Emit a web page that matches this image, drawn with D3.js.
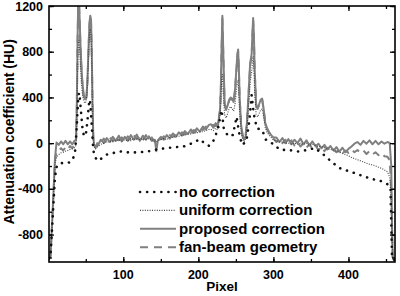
<!DOCTYPE html>
<html>
<head>
<meta charset="utf-8">
<script src="https://cdn.jsdelivr.net/npm/d3@7"></script>
<style>
  body { margin: 0; background: #fff; }
  text { font-family: "Liberation Sans", Arial, sans-serif; font-weight: bold; }
</style>
</head>
<body>
<div id="chart"></div>
<script>
// pixel positions shared by the three dense profiles
var pixels = [1, 3, 5, 7, 9, 11, 14, 17, 20, 23, 26, 29, 32, 35,
  37, 38, 39, 40, 41, 42, 43, 44, 45, 46, 47, 48, 49, 50, 51, 52, 53, 54, 55, 56, 57, 58, 59, 60, 61, 63,
  66, 70, 74, 78, 82, 86, 90, 94, 98, 102, 106, 110, 114, 118, 122, 126, 130, 134, 138, 142, 144, 146,
  150, 154, 158, 162, 166, 170, 174, 178, 182, 186, 190, 194, 198, 202, 206, 210, 214,
  217, 220, 223, 225, 227, 229, 230, 231, 232, 233, 235, 237, 239, 241, 243, 245, 247, 249, 251, 252,
  253, 254, 255, 257, 259, 261, 263, 265, 267, 269, 270, 271, 272, 273, 274, 275, 277, 279, 281, 283,
  285, 287, 289, 291, 294, 297, 300,
  304, 308, 312, 316, 320, 324, 328, 332, 336, 340, 344, 348, 352, 356, 360, 364, 368, 372, 376, 380,
  384, 388, 392, 396, 400, 404, 408, 412, 416, 420, 424, 428, 432, 436, 440, 444, 448, 452,
  455, 457, 458, 459, 460, 462];

var proposed = [-1010, -990, -720, -430, -130, 5, -15, 15, -10, 20, -10, 15, -10, 20,
  30, 300, 900, 1260, 1250, 1050, 850, 700, 580, 500, 440, 400, 385, 390, 420, 520, 700, 900, 1060, 1115, 1080, 800, 350, 60, -10, -30,
  -20, 30, 0, 45, 10, 55, 20, 65, 15, 55, 20, 70, 30, 75, 20, 65, 30, 60, 20, 30, -70, 25,
  55, 30, 70, 40, 85, 55, 95, 65, 105, 80, 120, 90, 130, 100, 145, 120, 160,
  165, 135, 175, 145, 200, 300, 500, 850, 1115, 850, 350, 290, 330, 380, 400, 390, 360, 480, 680, 780,
  820, 650, 400, 160, 60, 30, 60, 200, 450, 700, 740, 780, 950, 1095, 950, 650, 330, 300, 340, 380,
  390, 300, 180, 140, 100, 70, 50,
  50, 10, 45, 0, 35, -10, 30, 0, 40, -10, 25, -20, 15, -25, -5, -45, -15, -55, -25, -65,
  -35, -75, -40, -80, -50, -30, -5, 10, -15, 20, -5, 25, -10, 20, -10, 15, -5, 10,
  0, -200, -700, -1000, -1020, -1020];

var uniform = [-1010, -990, -740, -460, -180, -120, -100, -85, -80, -70, -65, -55, -50, -40,
  -20, 200, 600, 880, 900, 800, 650, 540, 460, 410, 380, 360, 350, 360, 390, 480, 640, 820, 950, 1000, 950, 700, 300, 30, -30, -50,
  -30, -10, 0, 10, 10, 20, 20, 30, 20, 30, 20, 40, 30, 40, 30, 40, 30, 40, 30, 20, 10, 20,
  30, 40, 30, 50, 50, 60, 60, 70, 70, 80, 80, 90, 90, 100, 100, 110, 120,
  120, 110, 130, 120, 160, 250, 400, 550, 600, 450, 250, 220, 260, 300, 320, 300, 280, 350, 480, 540,
  550, 420, 260, 100, 30, 10, 40, 150, 330, 520, 580, 620, 700, 760, 650, 450, 250, 230, 260, 290,
  300, 230, 140, 100, 70, 50, 30,
  20, 10, 10, 0, 0, -10, 0, -10, 0, -10, 0, -20, -10, -20, -30, -30, -40, -50, -55, -60,
  -70, -80, -90, -100, -110, -125, -135, -145, -155, -165, -175, -185, -190, -200, -210, -220, -235, -250,
  -300, -500, -800, -1000, -1020, -1020];

var fanBeam = [-1010, -990, -720, -440, -150, -70, -65, -45, -65, -35, -55, -25, -45, -15,
  10, 280, 850, 1220, 1220, 1020, 820, 680, 560, 480, 420, 385, 370, 375, 405, 500, 680, 880, 1040, 1100, 1060, 780, 330, 40, -20, -40,
  10, -5, 40, 10, 50, 15, 60, 25, 50, 15, 60, 25, 70, 35, 60, 25, 70, 30, 50, 10, 0, 40,
  35, 60, 40, 70, 55, 80, 65, 95, 75, 105, 90, 115, 100, 135, 115, 145, 130,
  150, 160, 150, 175, 210, 290, 480, 820, 1090, 830, 340, 300, 320, 370, 390, 380, 350, 470, 660, 760,
  800, 640, 390, 170, 70, 40, 70, 210, 440, 680, 720, 770, 930, 1070, 930, 640, 340, 310, 330, 370,
  380, 290, 190, 130, 90, 60, 40,
  10, 40, 0, 30, -10, 25, -20, 10, -30, 0, -40, -10, -50, -20, -60, -30, -70, -40, -70, -55,
  -80, -55, -90, -65, -85, -55, -80, -60, -85, -65, -95, -70, -100, -80, -105, -85, -115, -120,
  -150, -400, -800, -1000, -1020, -1020];

// the uncorrected profile is read at coarser points
var noCorrPixels = [1, 3, 5, 7, 9, 11, 14, 18, 22, 26, 30, 34, 36, 38, 40, 41, 42, 44, 46, 48, 50, 52, 54, 55, 56, 58, 60, 62,
  66, 72, 78, 86, 96, 108, 122, 135, 145, 158, 170, 180, 190, 196, 202, 208, 214,
  220, 226, 231, 234, 240, 246, 251, 254, 258, 264, 268, 271, 274, 278, 285, 290, 296,
  309, 320, 333, 345, 355, 365, 377, 388, 398, 408, 420, 431, 444, 453, 456, 457, 458, 460, 462];
var noCorr = [-1010, -990, -760, -520, -300, -210, -180, -175, -170, -172, -165, -120, -60, 150, 400, 440, 400, 250, 100, 60, 70, 180, 330, 380, 350, 150, -60, -120,
  -155, -130, -100, -87, -73, -82, -80, -70, -55, -43, -35, -30, -5, 14, 35, 0, -23,
  20, 120, 290, 120, 60, 72, 230, 100, -15, 14, 200, 420, 250, 130, 115, 30, 10,
  -58, -60, -73, -60, -43, -90, -160, -218, -240, -261, -290, -313, -333, -362, -400, -700, -1000, -1020, -1020];

var yTicks = [-800, -400, 0, 400, 800, 1200];
var xTicks = [100, 200, 300, 400];
var legendNames = ["no correction", "uniform correction", "proposed correction", "fan-beam geometry"];

var margin = {top: 6, right: 5, bottom: 34, left: 49},
    width = 400 - margin.left - margin.right,
    height = 296 - margin.top - margin.bottom;

var svg = d3.select("#chart")
  .append("svg")
  .attr("width", 400)
  .attr("height", 296)
  .append("g")
  .attr("transform", "translate(" + margin.left + "," + margin.top + ")");

var x = d3.scaleLinear().domain([1, 462]).range([0, width]);
var y = d3.scaleLinear().domain([-1040, 1200]).range([height, 0]);

svg.append("clipPath").attr("id", "clip")
  .append("rect").attr("width", width).attr("height", height);

// series styles
var styles = [
  {name: legendNames[0], px: noCorrPixels, vals: noCorr, color: "#111", w: 2.6, dash: "0.1,7", cap: "round"},
  {name: legendNames[1], px: pixels, vals: uniform, color: "#444", w: 1.1, dash: "1,1.4", cap: "butt"},
  {name: legendNames[2], px: pixels, vals: proposed, color: "#808080", w: 2, dash: null, cap: "butt"},
  {name: legendNames[3], px: pixels, vals: fanBeam, color: "#808080", w: 2, dash: "8,6", cap: "butt"}
];

var line = d3.line()
  .x(function(d) { return x(d[0]); })
  .y(function(d) { return y(d[1]); });

var plot = svg.append("g").attr("clip-path", "url(#clip)");
[3, 2, 1, 0].forEach(function(i) {
  var s = styles[i];
  plot.append("path")
    .datum(s.px.map(function(p, j) { return [p, s.vals[j]]; }))
    .attr("fill", "none")
    .attr("stroke", s.color)
    .attr("stroke-width", s.w)
    .attr("stroke-dasharray", s.dash)
    .attr("stroke-linecap", s.cap)
    .attr("stroke-linejoin", "round")
    .attr("d", line);
});

// axes: major + minor ticks pointing inward on all four sides
function tickAxis(axis, scale, values, size) {
  return axis(scale).tickValues(values).tickSize(size).tickFormat("");
}
var xMinor = d3.range(50, 462, 50), yMinor = d3.range(-1000, 1201, 200);

svg.append("g").attr("transform", "translate(0," + height + ")")
  .call(tickAxis(d3.axisTop, x, xMinor, 3));
svg.append("g").attr("transform", "translate(0," + height + ")")
  .call(d3.axisTop(x).tickValues(xTicks).tickSize(5).tickFormat(""));
svg.append("g").call(tickAxis(d3.axisBottom, x, xMinor, 3));
svg.append("g").call(tickAxis(d3.axisBottom, x, xTicks, 5));
svg.append("g").call(tickAxis(d3.axisRight, y, yMinor, 3));
svg.append("g").call(tickAxis(d3.axisRight, y, yTicks, 5));
svg.append("g").attr("transform", "translate(" + width + ",0)")
  .call(tickAxis(d3.axisLeft, y, yMinor, 3));
svg.append("g").attr("transform", "translate(" + width + ",0)")
  .call(tickAxis(d3.axisLeft, y, yTicks, 5));
svg.selectAll(".domain").remove();
svg.selectAll(".tick line").attr("stroke", "#000").attr("stroke-width", 1.3);

svg.append("rect")
  .attr("width", width).attr("height", height)
  .attr("fill", "none").attr("stroke", "#000").attr("stroke-width", 1.6);

// tick labels
svg.selectAll(".ylab").data(yTicks).enter().append("text")
  .attr("x", -6).attr("y", function(d) { return y(d) + 4.5; })
  .attr("text-anchor", "end").style("font-size", "12.5px")
  .text(function(d) { return d; });
svg.selectAll(".xlab").data(xTicks).enter().append("text")
  .attr("x", function(d) { return x(d); }).attr("y", height + 17)
  .attr("text-anchor", "middle").style("font-size", "12.5px")
  .text(function(d) { return d; });

svg.append("text")
  .attr("x", width / 2).attr("y", height + 29)
  .attr("text-anchor", "middle").style("font-size", "13.5px")
  .text("Pixel");
svg.append("text")
  .attr("transform", "translate(" + (-35) + "," + (y(100)) + ")rotate(-90)")
  .attr("text-anchor", "middle").style("font-size", "14px")
  .text("Attenuation coefficient (HU)");

// legend
var legend = svg.append("g").attr("transform", "translate(91,186)");
styles.forEach(function(s, i) {
  var g = legend.append("g").attr("transform", "translate(0," + (i * 18.4) + ")");
  g.append("line")
    .attr("x1", 0).attr("x2", 36).attr("y1", 0).attr("y2", 0)
    .attr("stroke", s.color).attr("stroke-width", s.w)
    .attr("stroke-dasharray", s.dash).attr("stroke-linecap", s.cap);
  g.append("text").attr("x", 39).attr("y", 5)
    .style("font-size", "15px").text(s.name);
});
</script>
</body>
</html>
